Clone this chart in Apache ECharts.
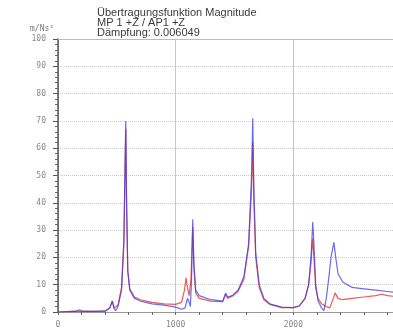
<!DOCTYPE html>
<html>
<head>
<meta charset="utf-8">
<script src="https://cdn.jsdelivr.net/npm/echarts@6/dist/echarts.min.js"></script>
<style>
  html, body { margin: 0; padding: 0; background: #fff; }
  #chart { width: 393px; height: 328px; }
</style>
</head>
<body>
<div id="chart"></div>
<script>
// frequency / magnitude pairs
const redSeries = [
    [0, 0], [150, 0.2], [183, 0.8], [210, 0.2], [300, 0.2], [400, 0.3], [440, 1.5], [462, 4],
    [475, 1.5], [490, 0.8], [510, 2.5], [540, 9], [560, 27], [570, 52], [576, 67], [583, 38],
    [593, 15], [610, 8.5], [650, 5.5], [700, 4.5], [800, 3.5], [900, 3], [1000, 2.8], [1050, 3.5],
    [1075, 8], [1088, 12.5], [1100, 9], [1115, 6], [1130, 12], [1145, 31], [1155, 16], [1170, 7],
    [1200, 5], [1300, 4], [1400, 3.8], [1425, 6.5], [1440, 5], [1480, 5.8], [1530, 7.5], [1580, 12],
    [1620, 24], [1645, 45], [1655, 62], [1665, 40], [1680, 20], [1710, 9], [1750, 4.5], [1800, 2.8],
    [1900, 1.6], [2000, 1.6], [2050, 2.2], [2100, 5], [2130, 10], [2150, 18], [2165, 27], [2175, 20],
    [2190, 9], [2210, 5], [2240, 3], [2280, 2], [2310, 1.5], [2340, 5], [2355, 7], [2380, 5],
    [2420, 4.5], [2500, 5], [2600, 5.5], [2700, 6], [2750, 6.5], [2800, 6], [2900, 5.5]
];
const blueSeries = [
    [0, 0], [100, 0.2], [200, 0.3], [300, 0.2], [400, 0.3], [440, 1.5], [462, 4], [475, 1.5],
    [490, 0.5], [510, 2], [540, 8], [560, 25], [570, 55], [576, 70], [583, 40], [593, 15],
    [610, 8], [650, 5], [700, 4], [800, 3], [900, 2.5], [1000, 1.8], [1050, 1], [1080, 1.5],
    [1100, 5], [1115, 3.5], [1125, 2], [1135, 12], [1145, 34], [1155, 18], [1170, 8], [1200, 6],
    [1300, 4.5], [1400, 4], [1425, 7], [1440, 5.5], [1480, 6], [1530, 8], [1580, 13], [1620, 25],
    [1645, 50], [1655, 71], [1665, 45], [1680, 22], [1710, 10], [1750, 5], [1800, 3], [1900, 1.8],
    [2000, 1.6], [2050, 2.2], [2100, 5], [2130, 10], [2150, 20], [2165, 33], [2175, 25], [2190, 10],
    [2210, 4], [2240, 1.5], [2260, 0.5], [2280, 5], [2300, 12], [2320, 20], [2345, 25.5], [2360, 20],
    [2380, 14], [2420, 11], [2500, 9], [2600, 8.5], [2700, 8], [2800, 7.5], [2900, 7]
];
const titleLines = ['Übertragungsfunktion Magnitude', 'MP 1 +Z / AP1 +Z', 'Dämpfung: 0.006049'];
const yUnit = 'm/Ns²';

const chart = echarts.init(document.getElementById('chart'));
const monoFont = 'DejaVu Sans Mono';

const option = {
    backgroundColor: '#fff',
    animation: false,
    title: {
        text: titleLines.join('\n'),
        left: 97,
        top: 8,
        padding: 0,
        textStyle: {
            fontFamily: 'Liberation Sans',
            fontSize: 11,
            fontWeight: 'normal',
            lineHeight: 9.8,
            color: '#3a3a3a'
        }
    },
    graphic: [{
        type: 'text',
        left: 30,
        top: 25,
        style: { text: yUnit, font: '8px ' + monoFont, fill: '#777' }
    }],
    grid: { left: 58, top: 39, bottom: 16, right: -18, outerBoundsMode: 'none', containLabel: false },
    xAxis: [{
        type: 'value',
        min: 0,
        max: 3000,
        interval: 1000,
        axisLine: { show: true, lineStyle: { color: '#999', width: 1 } },
        axisTick: { show: true, length: 3, lineStyle: { color: '#666' } },
        minorTick: { show: true, splitNumber: 5, length: 3, lineStyle: { color: '#666' } },
        axisLabel: { fontFamily: monoFont, fontSize: 8, color: '#888', margin: 9, formatter: v => String(v) },
        splitLine: { show: true, lineStyle: { color: '#c8c8c8', width: 1 } }
    }, {
        type: 'value',
        position: 'top',
        min: 0,
        max: 3000,
        axisLine: { show: true, lineStyle: { color: '#bbb' } },
        axisTick: { show: false },
        axisLabel: { show: false },
        splitLine: { show: false }
    }],
    yAxis: {
        type: 'value',
        min: 0,
        max: 100,
        interval: 10,
        axisLine: { show: true, lineStyle: { color: '#555', width: 1.5 } },
        axisTick: { show: true, length: 5, lineStyle: { color: '#555' } },
        minorTick: { show: true, splitNumber: 5, length: 3, lineStyle: { color: '#666' } },
        axisLabel: { fontFamily: monoFont, fontSize: 8, color: '#888', margin: 12 },
        splitLine: { show: true, lineStyle: { color: '#c8c8c8', type: 'dotted', width: 1 } }
    },
    series: [
        {
            name: 'rot',
            type: 'line',
            data: redSeries,
            showSymbol: false,
            lineStyle: { color: '#e8302a', width: 1.2, opacity: 0.8 },
            z: 2
        },
        {
            name: 'blau',
            type: 'line',
            data: blueSeries,
            showSymbol: false,
            lineStyle: { color: '#3a3ae6', width: 1.2, opacity: 0.75 },
            z: 3
        }
    ]
};

chart.setOption(option);
</script>
</body>
</html>
